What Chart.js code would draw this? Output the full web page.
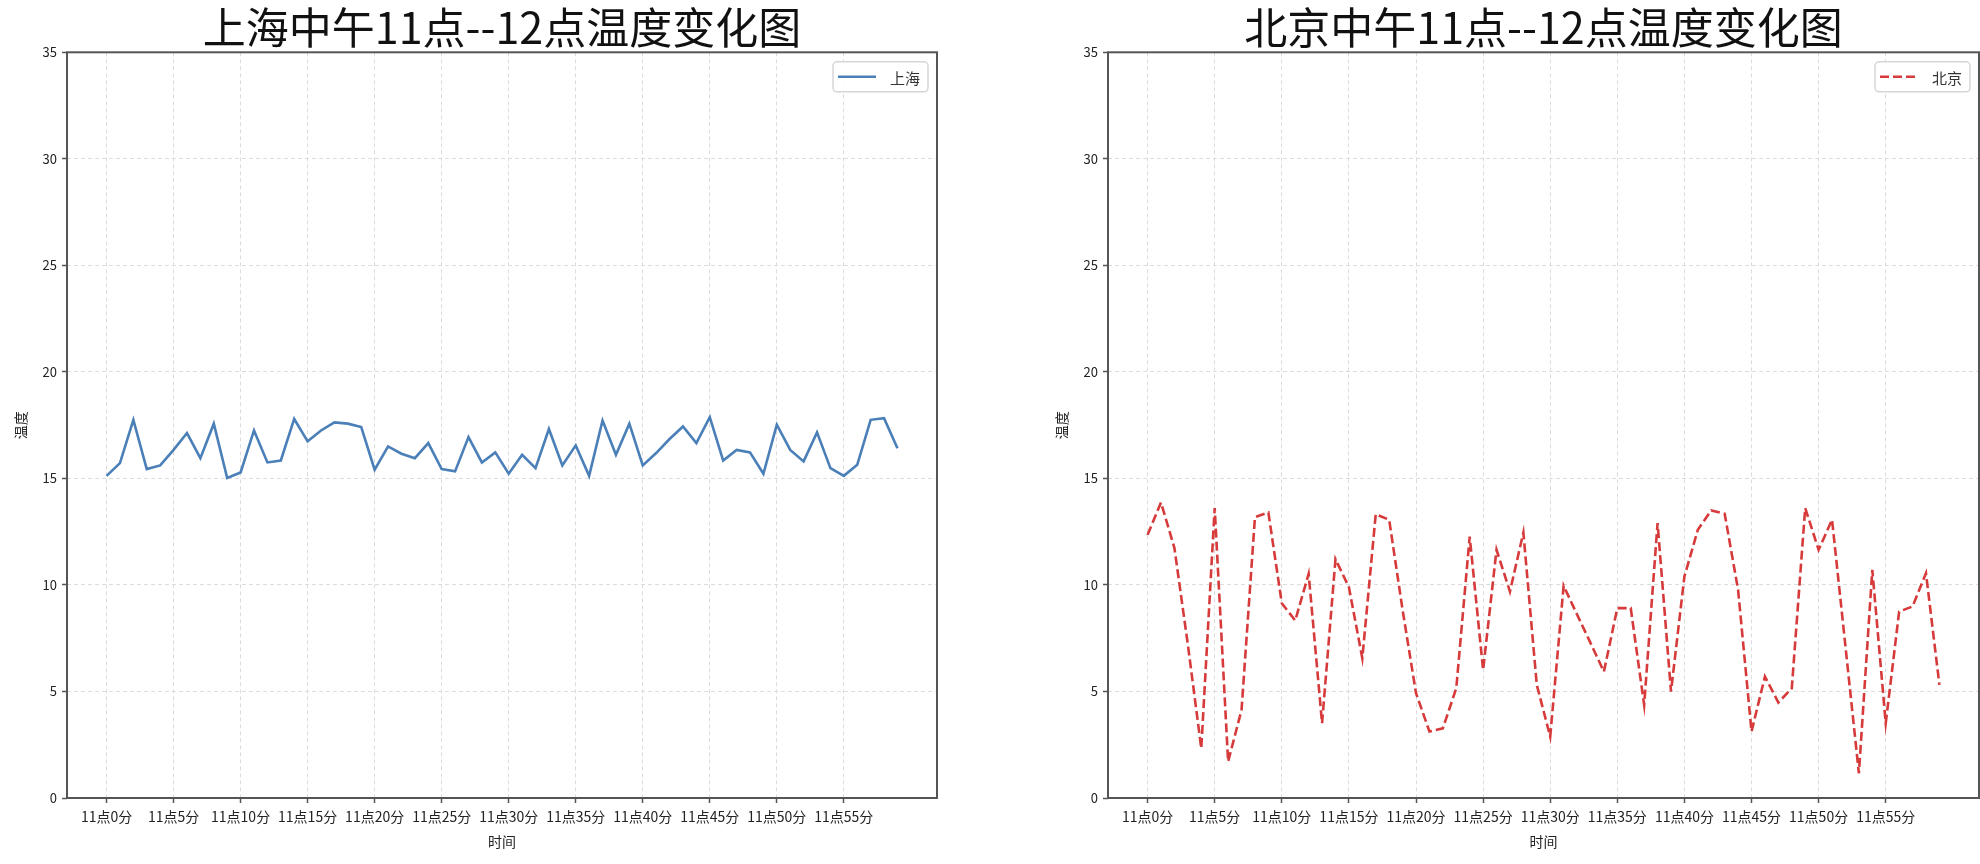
<!DOCTYPE html>
<html>
<head>
<meta charset="utf-8">
<script src="https://cdn.jsdelivr.net/npm/chart.js@4.4.0/dist/chart.umd.min.js"></script>
<style>
  body { margin: 0; background: #fff; overflow: hidden; }
  canvas { position: absolute; top: 0; }
  #shChart { left: 0; }
  #bjChart { left: 1041px; }
</style>
</head>
<body>
<canvas id="shChart" width="990" height="864"></canvas>
<canvas id="bjChart" width="939" height="864"></canvas>
<script>
// minutes after 11:00
const minutes = [0, 1, 2, 3, 4, 5, 6, 7, 8, 9, 10, 11, 12, 13, 14, 15, 16, 17, 18, 19,
  20, 21, 22, 23, 24, 25, 26, 27, 28, 29, 30, 31, 32, 33, 34, 35, 36, 37, 38, 39,
  40, 41, 42, 43, 44, 45, 46, 47, 48, 49, 50, 51, 52, 53, 54, 55, 56, 57, 58, 59];
const tickMinutes = [0, 5, 10, 15, 20, 25, 30, 35, 40, 45, 50, 55];

const shanghaiTemps = [15.12, 15.72, 17.75, 15.44, 15.61, 16.34, 17.13, 15.95, 17.57, 15.02,
  15.28, 17.25, 15.75, 15.84, 17.79, 16.74, 17.25, 17.63, 17.57, 17.41,
  15.41, 16.50, 16.16, 15.95, 16.66, 15.44, 15.33, 16.94, 15.75, 16.22,
  15.22, 16.11, 15.48, 17.32, 15.61, 16.55, 15.12, 17.72, 16.11, 17.57,
  15.61, 16.19, 16.85, 17.44, 16.66, 17.88, 15.84, 16.34, 16.22, 15.22,
  17.52, 16.34, 15.80, 17.16, 15.48, 15.12, 15.64, 17.75, 17.83, 16.42];

const beijingTemps = [12.35, 13.87, 11.73, 7.2, 2.33, 13.61, 1.71, 4.13, 13.18, 13.40,
  9.14, 8.33, 10.52, 3.51, 11.21, 9.90, 6.56, 13.32, 13.06, 8.83,
  4.92, 3.12, 3.27, 5.15, 12.27, 6.01, 11.65, 9.69, 12.46, 5.31,
  2.88, 9.96, 8.61, 7.28, 5.93, 8.91, 8.91, 4.37, 12.90, 4.99,
  10.40, 12.59, 13.50, 13.34, 9.77, 3.12, 5.70, 4.48, 5.15, 13.61,
  11.65, 13.06, 7.11, 1.16, 10.71, 3.51, 8.75, 8.99, 10.55, 5.31];

const FONT = '"Noto Sans CJK SC", "Noto Sans", sans-serif';

// frame around the plot area plus a matplotlib style legend box
const framePlugin = {
  id: 'frame',
  afterDraw(chart) {
    const { ctx, chartArea: a } = chart;
    ctx.save();
    ctx.strokeStyle = '#555';
    ctx.lineWidth = 2;
    ctx.strokeRect(a.left, a.top, a.right - a.left, a.bottom - a.top);

    const ds = chart.data.datasets[0];
    ctx.font = '15px ' + FONT;
    const tw = ctx.measureText(ds.label).width;
    const w = 5 + 38 + 14 + tw + 8, h = 30;
    const x = a.right - 9 - w, y = a.top + 9.5;
    ctx.beginPath();
    ctx.roundRect(x, y, w, h, 4);
    ctx.fillStyle = 'rgba(255,255,255,0.9)';
    ctx.fill();
    ctx.strokeStyle = '#d6d6d6';
    ctx.lineWidth = 1.5;
    ctx.stroke();

    ctx.beginPath();
    ctx.setLineDash(ds.borderDash || []);
    ctx.strokeStyle = ds.borderColor;
    ctx.lineWidth = ds.borderWidth;
    ctx.moveTo(x + 5, y + h / 2);
    ctx.lineTo(x + 43, y + h / 2);
    ctx.stroke();
    ctx.setLineDash([]);

    ctx.fillStyle = '#333';
    ctx.textBaseline = 'middle';
    ctx.fillText(ds.label, x + 57, y + h / 2 + 1);
    ctx.restore();
  }
};

function makeChart(id, title, label, temps, color, dash, padRight) {
  return new Chart(document.getElementById(id), {
    type: 'line',
    data: {
      datasets: [{
        label: label,
        data: minutes.map((m, i) => ({ x: m, y: temps[i] })),
        borderColor: color,
        backgroundColor: color,
        borderWidth: 2.6,
        borderDash: dash,
        pointRadius: 0,
        tension: 0
      }]
    },
    options: {
      responsive: false,
      animation: false,
      layout: { padding: { left: 0, right: padRight, top: 0, bottom: 0 } },
      plugins: {
        legend: { display: false },
        tooltip: { enabled: false },
        title: {
          display: true,
          text: title,
          fullSize: false,
          color: '#111',
          font: { family: FONT, size: 43, weight: 'normal', lineHeight: 1.1 },
          padding: { top: 4, bottom: 1 }
        }
      },
      scales: {
        x: {
          type: 'linear',
          min: -2.95,
          max: 61.95,
          afterBuildTicks: (axis) => { axis.ticks = tickMinutes.map(v => ({ value: v })); },
          afterFit: (axis) => { axis.height = 66; },
          ticks: {
            autoSkip: false,
            maxRotation: 0,
            padding: 5,
            color: '#222',
            font: { family: FONT, size: 14 },
            callback: (v) => '11点' + v + '分'
          },
          grid: { color: '#dcdcdc', tickColor: '#555', tickLength: 5, tickWidth: 1.5 },
          border: { display: false, dash: [4, 3] },
          title: {
            display: true,
            text: '时间',
            color: '#222',
            font: { family: FONT, size: 14 },
            padding: { top: 0, bottom: 14 }
          }
        },
        y: {
          min: 0,
          max: 35,
          afterFit: (axis) => { axis.width = 67; },
          ticks: {
            stepSize: 5,
            padding: 5,
            color: '#222',
            font: { family: FONT, size: 13 }
          },
          grid: { color: '#dcdcdc', tickColor: '#555', tickLength: 5, tickWidth: 1.5 },
          border: { display: false, dash: [4, 3] },
          title: {
            display: true,
            text: '温度',
            color: '#222',
            font: { family: FONT, size: 14 },
            padding: { top: 12, bottom: 0 }
          }
        }
      }
    },
    plugins: [framePlugin]
  });
}

makeChart('shChart', '上海中午11点--12点温度变化图', '上海', shanghaiTemps, '#4a7fb8', [], 53);
makeChart('bjChart', '北京中午11点--12点温度变化图', '北京', beijingTemps, '#d63a3a', [9, 4], 1);
</script>
</body>
</html>
